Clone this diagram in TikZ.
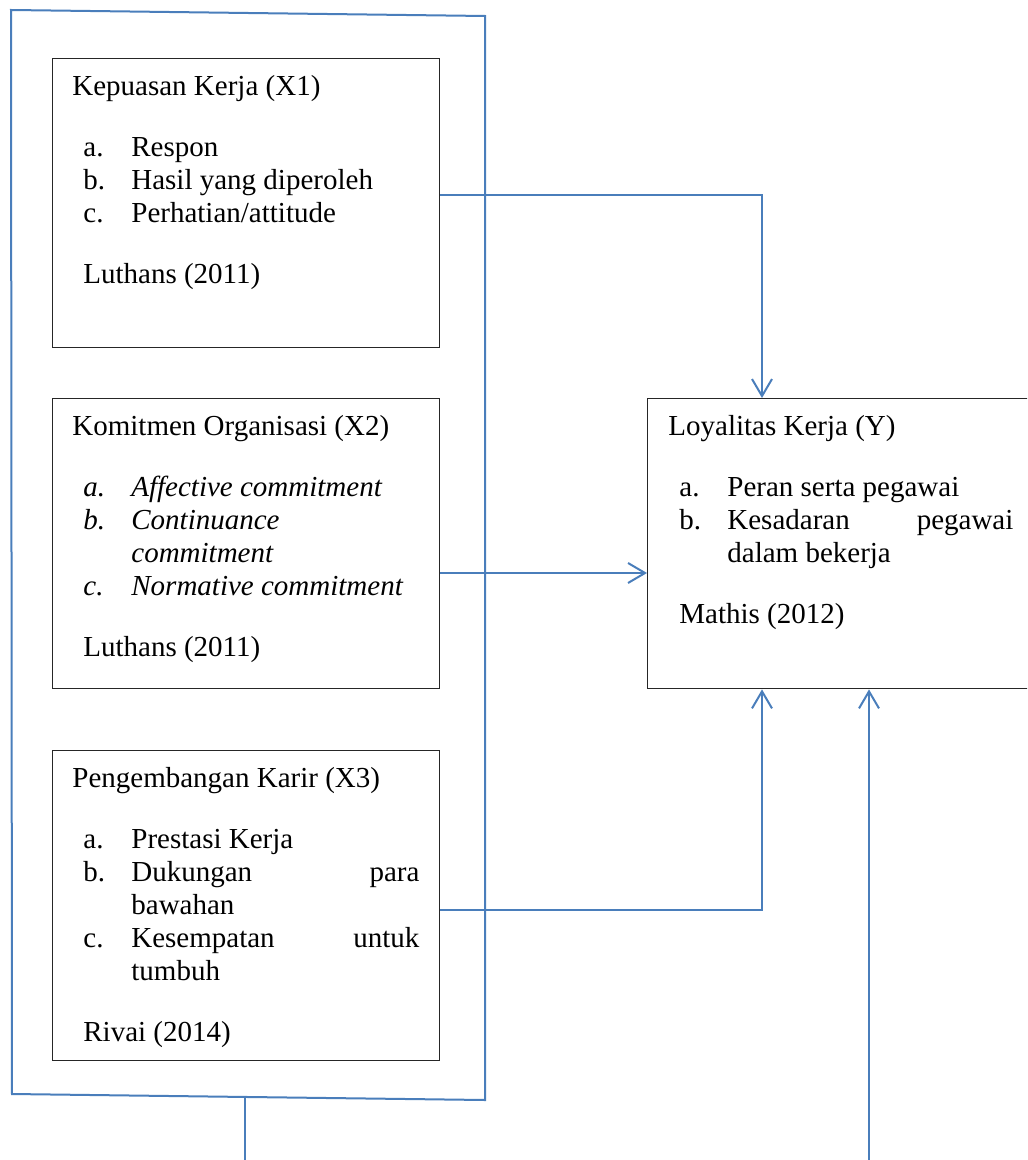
\documentclass[tikz,border=0pt]{standalone}
\usepackage{fontspec}
\setmainfont{Liberation Serif}
\usepackage{tikz}
\usetikzlibrary{arrows.meta}
\definecolor{garisbiru}{RGB}{74,126,187}
\newcommand{\butir}[2]{\hspace*{5.5pt}\makebox[24pt][l]{#1}#2}
\newcommand{\lanjut}[1]{\hspace*{29.5pt}#1}

\begin{document}
\begin{tikzpicture}[x=0.5pt,y=-0.5pt,
  kotak/.style={draw=black!85,line width=0.7pt,anchor=north west,inner sep=0pt,minimum width=193.5pt},
  isi/.style={anchor=north west,inner sep=0pt,align=left,font=\fontsize{14.5pt}{16.5pt}\selectfont},
  garis/.style={draw=garisbiru,line width=1pt},
  panah/.style={garis,-{Straight Barb[length=8.5pt,width=10pt]}}]
  \useasboundingbox (0,0) rectangle (1027,1160);
  \clip (0,0) rectangle (1027,1160);
  \draw[garis] (11,10) -- (485,16) -- (485,1100) -- (12,1094) -- cycle;
  \coordinate (kaki1) at (245,1097);
  \coordinate (ujung1) at (245,1160);
  \coordinate (ujung2) at (869,1160);
  \node[kotak,minimum height=144.5pt] (x1) at (52,58) {};
  \node[kotak,minimum height=145pt] (x2) at (52,398) {};
  \node[kotak,minimum height=155pt] (x3) at (52,750) {};
  \node[kotak,minimum width=196.5pt,minimum height=145pt] (y) at (647,398) {};
  \node[isi] (x1isi) at (72,72) {\strut Kepuasan Kerja (X1)\\[14pt]
    \butir{a.}{Respon}\\
    \butir{b.}{Hasil yang diperoleh}\\
    \butir{c.}{Perhatian/attitude}\\[14pt]
    \hspace*{5.5pt}Luthans (2011)};
  \node[isi] (x2isi) at (72,412) {\strut Komitmen Organisasi (X2)\\[14pt]
    \butir{\textit{a.}}{\textit{Affective commitment}}\\
    \butir{\textit{b.}}{\textit{Continuance}}\\
    \lanjut{\textit{commitment}}\\
    \butir{\textit{c.}}{\textit{Normative commitment}}\\[14pt]
    \hspace*{5.5pt}Luthans (2011)};
  \node[isi] (x3isi) at (72,764) {\strut Pengembangan Karir (X3)\\[14pt]
    \butir{a.}{Prestasi Kerja}\\
    \butir{b.}{\hbox to 144pt{Dukungan\hfill para}}\\
    \lanjut{bawahan}\\
    \butir{c.}{\hbox to 144pt{Kesempatan\hfill untuk}}\\
    \lanjut{tumbuh}\\[14pt]
    \hspace*{5.5pt}Rivai (2014)};
  \node[isi] (yisi) at (668,412) {\strut Loyalitas Kerja (Y)\\[14pt]
    \butir{a.}{Peran serta pegawai}\\
    \butir{b.}{\hbox to 143pt{Kesadaran\hfill pegawai}}\\
    \lanjut{dalam bekerja}\\[14pt]
    \hspace*{5.5pt}Mathis (2012)};
  \draw[panah] (x1.east |- 0,195) -| (762,0 |- y.north);
  \draw[panah] (x2.east |- 0,573) -- (y.west |- 0,573);
  \draw[panah] (x3.east |- 0,910) -| (762,0 |- y.south);
  \draw[panah] (ujung2) -- (869,0 |- y.south);
  \draw[garis] (kaki1) -- (ujung1);
\end{tikzpicture}
\end{document}
